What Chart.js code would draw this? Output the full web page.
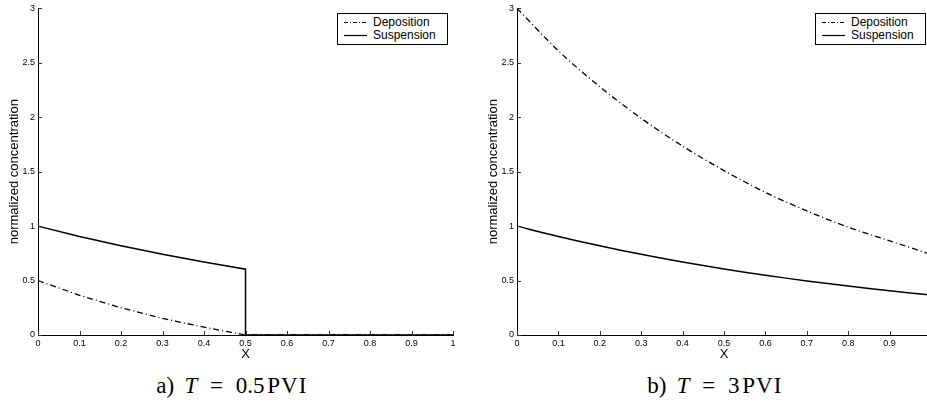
<!DOCTYPE html>
<html>
<head>
<meta charset="utf-8">
<title>Normalized concentration profiles</title>
<script src="https://cdn.jsdelivr.net/npm/chart.js@4.4.1/dist/chart.umd.min.js"></script>
<style>
  html, body { margin: 0; padding: 0; background: #fff; }
  body { width: 927px; height: 412px; overflow: hidden; position: relative; }
  .panel { position: absolute; top: 0; height: 362px; }
  .panel canvas { display: block; }
  .legend {
    position: absolute;
    border: 1px solid #000;
    background: #fff;
    font: 12px "Liberation Sans", Arial, sans-serif;
    line-height: 13px;
    padding: 2px 11px 2px 6px;
    white-space: nowrap;
    color: #000;
  }
  .legend .row { display: flex; align-items: center; height: 13px; }
  .legend svg { margin-right: 6px; flex: none; }
  .caption {
    position: absolute;
    top: 373px;
    transform: translateX(-50%);
    font: 23px "Liberation Serif", "Times New Roman", serif;
    white-space: nowrap;
    color: #000;
  }
  .caption .eq { margin: 0 0.55em; }
  .caption .lbl { margin-right: 0.45em; }
  .caption .unit { margin-left: 0.12em; letter-spacing: 0.05em; }
</style>
</head>
<body>

<div class="panel" id="panelA" style="left:0; width:462px;">
  <canvas id="chartA"></canvas>
  <div class="legend">
    <div class="row"><svg width="23" height="13"><line x1="0" y1="6.5" x2="23" y2="6.5" stroke="#000" stroke-width="1" stroke-dasharray="4 2 1 2"/></svg>Deposition</div>
    <div class="row"><svg width="23" height="13"><line x1="0" y1="6.5" x2="23" y2="6.5" stroke="#000" stroke-width="1.2"/></svg>Suspension</div>
  </div>
</div>

<div class="panel" id="panelB" style="left:479px; width:461px;">
  <canvas id="chartB"></canvas>
  <div class="legend">
    <div class="row"><svg width="23" height="13"><line x1="0" y1="6.5" x2="23" y2="6.5" stroke="#000" stroke-width="1" stroke-dasharray="4 2 1 2"/></svg>Deposition</div>
    <div class="row"><svg width="23" height="13"><line x1="0" y1="6.5" x2="23" y2="6.5" stroke="#000" stroke-width="1.2"/></svg>Suspension</div>
  </div>
</div>

<div class="caption" style="left:232px;"><span class="lbl">a)</span><i>T</i><span class="eq">=</span>0.5<span class="unit">PVI</span></div>
<div class="caption" style="left:715px;"><span class="lbl">b)</span><i>T</i><span class="eq">=</span>3<span class="unit">PVI</span></div>

<script>
// panel a: T = 0.5 PVI (front at x = 0.5, nothing downstream)
const xA = [0, 0.1, 0.2, 0.3, 0.4, 0.5, 0.5, 0.6, 0.7, 0.8, 0.9, 1.0];
const suspensionA = [1.0, 0.905, 0.819, 0.741, 0.670, 0.605, 0, 0, 0, 0, 0, 0];
const depositionA = [0.5, 0.365, 0.25, 0.152, 0.072, 0, 0, 0, 0, 0, 0, 0];

// panel b: T = 3 PVI
const xB = [0, 0.1, 0.2, 0.3, 0.4, 0.5, 0.6, 0.7, 0.8, 0.9, 1.0];
const suspensionB = [1.0, 0.905, 0.819, 0.741, 0.670, 0.607, 0.549, 0.497, 0.449, 0.406, 0.368];
const depositionB = [3.0, 2.61, 2.28, 1.99, 1.735, 1.51, 1.31, 1.14, 0.99, 0.865, 0.74];

const xTickStep = 0.1;
const yTickStep = 0.5;
const xRange = [0, 1];
const yRange = [0, 3];

const FONT = '"Liberation Sans", Arial, sans-serif';

// plain numbers: 1 and 3 rather than 1.0 and 3.0
const tickText = (v) => String(Number(v.toFixed(2)));

// MATLAB-style tick marks pointing into the plot
const inwardTicks = {
  id: 'inwardTicks',
  afterDraw(chart) {
    const { ctx, chartArea, scales } = chart;
    ctx.save();
    ctx.strokeStyle = '#333';
    ctx.lineWidth = 1;
    ctx.beginPath();
    scales.x.ticks.forEach((t) => {
      const px = Math.round(scales.x.getPixelForValue(t.value)) + 0.5;
      ctx.moveTo(px, chartArea.bottom);
      ctx.lineTo(px, chartArea.bottom - 4);
    });
    scales.y.ticks.forEach((t) => {
      const py = Math.round(scales.y.getPixelForValue(t.value)) + 0.5;
      ctx.moveTo(chartArea.left, py);
      ctx.lineTo(chartArea.left + 4, py);
    });
    ctx.stroke();
    ctx.restore();
  }
};

function points(xs, ys) {
  return xs.map((x, i) => ({ x, y: ys[i] }));
}

function makePanel(panelId, canvasId, xs, suspension, deposition, tension) {
  const panel = document.getElementById(panelId);
  const canvas = document.getElementById(canvasId);
  canvas.width = panel.clientWidth;
  canvas.height = panel.clientHeight;

  const chart = new Chart(canvas, {
    type: 'line',
    data: {
      datasets: [
        {
          label: 'Deposition',
          data: points(xs, deposition),
          borderColor: '#000',
          borderWidth: 1.3,
          borderDash: [6, 3, 1, 3],
          pointRadius: 0,
          tension,
          clip: false
        },
        {
          label: 'Suspension',
          data: points(xs, suspension),
          borderColor: '#000',
          borderWidth: 1.5,
          pointRadius: 0,
          tension,
          clip: false
        }
      ]
    },
    options: {
      responsive: false,
      animation: false,
      layout: { padding: { top: 7, right: 9, bottom: 0, left: 0 } },
      plugins: {
        legend: { display: false },
        tooltip: { enabled: false }
      },
      scales: {
        x: {
          type: 'linear',
          min: xRange[0],
          max: xRange[1],
          grid: { display: false, drawTicks: false },
          border: { display: true, color: '#000', width: 1 },
          ticks: {
            stepSize: xTickStep,
            autoSkip: false,
            maxRotation: 0,
            padding: 3,
            color: '#000',
            font: { family: FONT, size: 9 },
            callback: tickText
          },
          title: {
            display: true,
            text: 'X',
            color: '#000',
            padding: 0,
            font: { family: FONT, size: 13, lineHeight: 1.2 }
          },
          afterFit(scale) { scale.height = 27; }
        },
        y: {
          type: 'linear',
          min: yRange[0],
          max: yRange[1],
          grid: { display: false, drawTicks: false },
          border: { display: true, color: '#000', width: 1 },
          ticks: {
            stepSize: yTickStep,
            autoSkip: false,
            padding: 3,
            color: '#000',
            font: { family: FONT, size: 9 },
            callback: tickText
          },
          title: {
            display: true,
            text: 'normalized concentration',
            color: '#000',
            padding: { top: 7, bottom: 0 },
            font: { family: FONT, size: 13, lineHeight: 1.2 }
          },
          afterFit(scale) { scale.width = 38; }
        }
      }
    },
    plugins: [inwardTicks]
  });

  // legend box sits in the upper right corner of the plot area
  const legend = panel.querySelector('.legend');
  const area = chart.chartArea;
  legend.style.left = (area.right - 5 - legend.offsetWidth) + 'px';
  legend.style.top = (area.top + 5) + 'px';
  return chart;
}

makePanel('panelA', 'chartA', xA, suspensionA, depositionA, 0);
makePanel('panelB', 'chartB', xB, suspensionB, depositionB, 0.3);
</script>
</body>
</html>
